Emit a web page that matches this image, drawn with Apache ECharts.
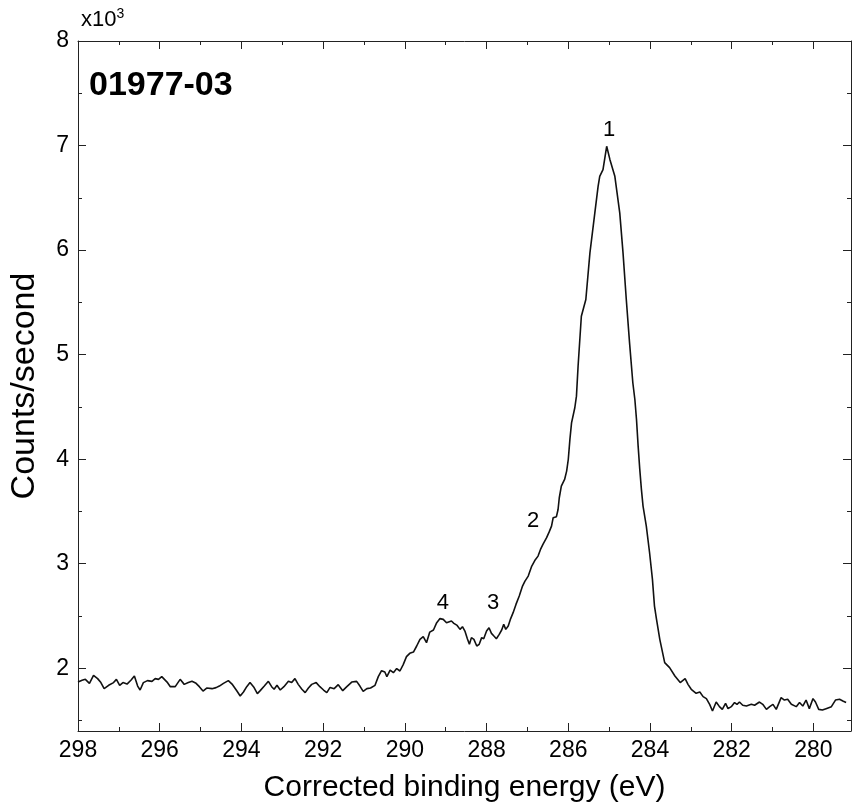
<!DOCTYPE html>
<html>
<head>
<meta charset="utf-8">
<script src="https://cdn.jsdelivr.net/npm/echarts@6/dist/echarts.min.js"></script>
<style>
html,body{margin:0;padding:0;background:#fff;}
#chart{width:852px;height:808px;}
</style>
</head>
<body>
<div id="chart"></div>
<script>
// Binding energy (eV), descending
const energy = [
298.00,297.90,297.82,297.72,297.62,297.52,297.44,297.36,297.25,297.13,297.06,296.98,296.90,296.80,296.70,296.62,296.54,296.48,296.40,296.30,
296.19,296.11,296.03,295.95,295.82,295.74,295.62,295.50,295.40,295.30,295.21,295.11,295.03,294.94,294.85,294.72,294.62,294.54,294.44,294.32,
294.23,294.11,294.03,293.95,293.87,293.79,293.69,293.61,293.54,293.44,293.34,293.26,293.20,293.13,293.05,292.96,292.85,292.77,292.69,292.61,
292.52,292.44,292.36,292.28,292.17,292.08,291.99,291.91,291.83,291.73,291.63,291.52,291.42,291.30,291.18,291.10,291.02,290.93,290.84,290.73,
290.65,290.57,290.49,290.44,290.36,290.28,290.20,290.12,290.04,289.96,289.88,289.79,289.71,289.63,289.55,289.47,289.39,289.30,289.22,289.14,
289.06,288.98,288.94,288.86,288.80,288.72,288.65,288.59,288.53,288.47,288.42,288.37,288.31,288.24,288.18,288.12,288.07,288.00,287.94,287.88,
287.82,287.76,287.69,287.63,287.58,287.53,287.47,287.41,287.35,287.28,287.20,287.12,287.06,286.98,286.90,286.82,286.74,286.68,286.62,286.53,
286.47,286.41,286.37,286.29,286.25,286.22,286.17,286.09,286.04,286.00,285.96,285.92,285.84,285.80,285.76,285.68,285.57,285.47,285.35,285.27,
285.23,285.15,285.06,284.98,284.86,284.74,284.66,284.58,284.50,284.42,284.37,284.33,284.29,284.25,284.21,284.17,284.09,284.01,283.94,283.89,
283.84,283.76,283.64,283.52,283.39,283.26,283.14,283.07,282.99,282.87,282.78,282.70,282.62,282.54,282.47,282.38,282.30,282.23,282.15,282.09,
282.01,281.93,281.87,281.81,281.73,281.64,281.52,281.44,281.32,281.24,281.15,281.07,280.99,280.91,280.79,280.71,280.63,280.54,280.42,280.34,
280.26,280.18,280.10,280.01,279.95,279.87,279.78,279.69,279.56,279.46,279.36,279.28,279.20
];
// Counts/second
const counts = [
1868,1885,1894,1856,1932,1901,1863,1805,1837,1863,1894,1837,1863,1849,1888,1926,1830,1792,1863,1882,
1875,1901,1894,1920,1868,1824,1824,1894,1846,1863,1875,1856,1824,1782,1811,1805,1815,1830,1856,1882,
1849,1782,1735,1773,1824,1863,1815,1758,1786,1830,1875,1824,1799,1837,1792,1824,1875,1863,1901,1846,
1799,1767,1811,1846,1863,1824,1792,1767,1817,1805,1843,1786,1824,1868,1875,1830,1779,1805,1811,1837,
1920,1977,1964,1920,1983,1958,1997,1974,2035,2111,2143,2155,2213,2277,2302,2245,2346,2366,2436,2475,
2468,2436,2442,2452,2430,2410,2372,2398,2356,2283,2229,2293,2277,2213,2229,2293,2283,2356,2388,2334,
2308,2283,2324,2366,2420,2372,2404,2475,2532,2611,2691,2786,2834,2882,2972,3030,3073,3137,3185,3249,
3302,3360,3440,3450,3519,3631,3742,3806,3886,3997,4189,4348,4492,4603,4889,5367,5527,5973,6356,6610,
6706,6770,6993,6865,6706,6356,5973,5527,5113,4731,4571,4380,4125,3902,3711,3551,3360,3105,2850,2595,
2468,2277,2054,2006,1926,1863,1901,1846,1799,1760,1773,1729,1710,1655,1591,1677,1633,1607,1665,1614,
1633,1672,1655,1677,1646,1639,1655,1646,1677,1655,1607,1633,1655,1607,1719,1696,1703,1655,1633,1672,
1639,1696,1614,1710,1677,1607,1601,1614,1633,1696,1703,1687,1672
];
const xMajorTicks = [280,282,284,286,288,290,292,294,296,298];
const xMinorTicks = [281,283,285,287,289,291,293,295,297];
const yMajorTicks = [2000,3000,4000,5000,6000,7000,8000];
const yMinorTicks = [1500,2500,3500,4500,5500,6500,7500];
const peakLabels = ['1','2','3','4'];
const peakE = [285.0, 286.86, 287.84, 289.07];
const peakCounts = [7147, 3412, 2629, 2629];

const FONT = 'Liberation Sans, Arial, sans-serif';
const AX = '#222';
const X_MIN = 279.08, X_MAX = 298, Y_MIN = 1400, Y_MAX = 8000;

function xAx(pos, custom, len, showLine, showLabel, extra) {
  return Object.assign({
    type: 'value', position: pos, min: X_MIN, max: X_MAX, inverse: true,
    axisLine: {show: showLine, onZero: false, lineStyle: {color: AX, width: 1}},
    axisTick: {show: true, inside: true, length: len, customValues: custom, lineStyle: {color: AX, width: 1}},
    axisLabel: {show: showLabel, customValues: custom, fontSize: 23, color: '#000', fontFamily: FONT, margin: 8},
    splitLine: {show: false}
  }, extra || {});
}
function yAx(pos, custom, len, showLine, showLabel, extra) {
  return Object.assign({
    type: 'value', position: pos, min: Y_MIN, max: Y_MAX,
    axisLine: {show: showLine, onZero: false, lineStyle: {color: AX, width: 1}},
    axisTick: {show: true, inside: true, length: len, customValues: custom, lineStyle: {color: AX, width: 1}},
    axisLabel: {show: showLabel, customValues: custom, fontSize: 23, color: '#000', fontFamily: FONT, margin: 9,
      formatter: v => String(v / 1000)},
    splitLine: {show: false}
  }, extra || {});
}

const chart = echarts.init(document.getElementById('chart'), null, {renderer: 'canvas'});
chart.setOption({
  backgroundColor: '#fff',
  animation: false,
  grid: {left: 78, right: 1, top: 41, bottom: 76, containLabel: false},
  title: [{
    text: '01977-03', left: 84, top: 64,
    textStyle: {fontSize: 34, fontWeight: 'bold', color: '#000', fontFamily: FONT}
  }, {
    text: '{a|x10}{s|3}', left: 76, top: 2,
    textStyle: {
      fontSize: 22, fontWeight: 'normal', color: '#000', fontFamily: FONT,
      rich: {
        a: {fontSize: 22, fontWeight: 'normal', fontFamily: FONT, color: '#000'},
        s: {fontSize: 14, fontWeight: 'normal', fontFamily: FONT, color: '#000', verticalAlign: 'top', padding: [0, 0, 12, 0]}
      }
    }
  }],
  xAxis: [
    xAx('bottom', xMajorTicks, 8, true, true, {
      name: 'Corrected binding energy (eV)', nameLocation: 'middle', nameGap: 42,
      nameTextStyle: {fontSize: 30, color: '#000', fontFamily: FONT}
    }),
    xAx('bottom', xMinorTicks, 4, false, false),
    xAx('top', xMajorTicks, 8, true, false),
    xAx('top', xMinorTicks, 4, false, false)
  ],
  yAxis: [
    yAx('left', yMajorTicks, 8, true, true, {
      name: 'Counts/second', nameLocation: 'middle', nameGap: 36,
      nameTextStyle: {fontSize: 34, color: '#000', fontFamily: FONT}
    }),
    yAx('left', yMinorTicks, 4, false, false),
    yAx('right', yMajorTicks, 8, true, false),
    yAx('right', yMinorTicks, 4, false, false)
  ],
  series: [{
    type: 'line',
    data: energy.map((e, i) => [e, counts[i]]),
    showSymbol: false, symbol: 'none',
    lineStyle: {color: '#111', width: 1.6},
    xAxisIndex: 0, yAxisIndex: 0
  }, {
    type: 'scatter',
    data: peakE.map((e, i) => ({value: [e, peakCounts[i]], name: peakLabels[i]})),
    symbolSize: 0,
    itemStyle: {opacity: 1, color: '#000'},
    label: {show: true, position: 'inside', formatter: p => p.name, fontSize: 22, color: '#000', opacity: 1, fontFamily: FONT},
    emphasis: {disabled: true},
    xAxisIndex: 0, yAxisIndex: 0
  }]
});
</script>
</body>
</html>
